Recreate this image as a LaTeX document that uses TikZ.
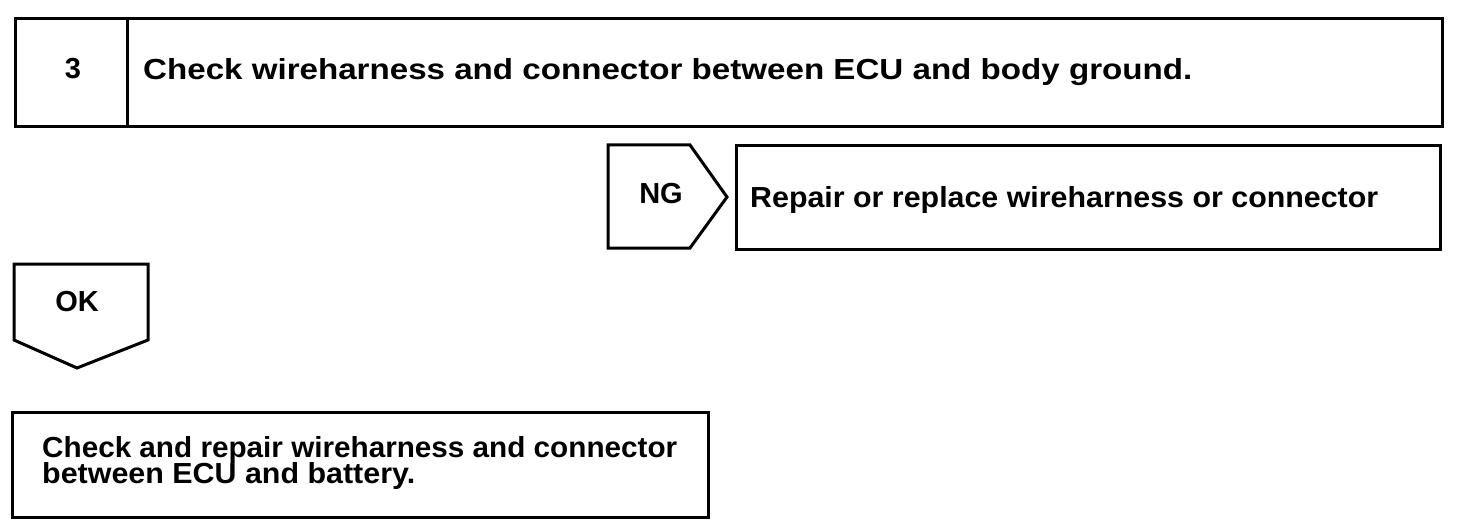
\documentclass[tikz,border=0pt]{standalone}
\usepackage{fontspec}
\usepackage{graphicx}
\setmainfont{Liberation Sans}
\tikzset{
  frame/.style={draw=black, line width=3pt, line join=miter},
  lbl/.style={inner sep=0pt, font=\fontsize{29}{31}\selectfont\bfseries},
}
\newcommand\wfit[2]{\resizebox{#1}{\height}{#2}}
\begin{document}
\begin{tikzpicture}[x=1pt,y=-1pt]
\useasboundingbox (0,0) rectangle (1472,532);
% top box
\draw[frame] (15,19) rectangle (1442,127);
\draw[frame] (127,19) -- (127,127);
\node[lbl] (num) at (73,69) {3};
\node[lbl, anchor=base west] (title) at (143,80) {\wfit{1049pt}{Check wireharness and connector between ECU and body ground.}};
% NG pentagon
\draw[frame] (608,145) -- (690,145) -- (727,197) -- (690,248) -- (608,248) -- cycle;
\node[lbl] (ng) at (661,194) {NG};
% repair box
\draw[frame] (736,146) rectangle (1440,249);
\node[lbl, anchor=base west] (repair) at (750,207) {\wfit{628pt}{Repair or replace wireharness or connector}};
% OK pentagon
\draw[frame] (14,264) -- (148,264) -- (148,340) -- (77,368) -- (14,340) -- cycle;
\node[lbl] (ok) at (77,302) {OK};
% bottom box
\draw[frame] (12,412) rectangle (708,517);
\node[lbl, anchor=base west] (l1) at (42,457) {\wfit{635pt}{Check and repair wireharness and connector}};
\node[lbl, anchor=base west] (l2) at (42,483) {\wfit{373pt}{between ECU and battery.}};
\end{tikzpicture}
\end{document}
